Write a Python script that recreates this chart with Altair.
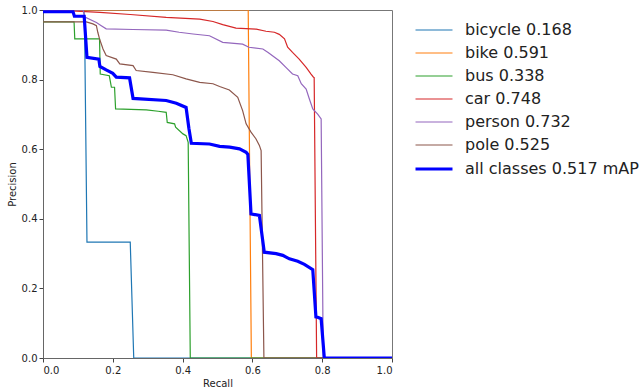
import altair as alt
import pandas as pd

classes = ["bicycle 0.168", "bike 0.591", "bus 0.338", "car 0.748",
           "person 0.732", "pole 0.525", "all classes 0.517 mAP"]
colors = ["#1f77b4", "#ff7f0e", "#2ca02c", "#d62728", "#9467bd", "#8c564b", "#0000ff"]
widths = [1.2, 1.2, 1.2, 1.2, 1.2, 1.2, 3.2]

bicycle_r = [0.0, 0.117, 0.119, 0.126, 0.25, 0.26, 1.0]
bicycle_p = [1.0, 1.0, 0.97, 0.333, 0.333, 0.0, 0.0]

bike_r = [0.0, 0.588, 0.597, 1.0]
bike_p = [1.0, 1.0, 0.0, 0.0]

bus_r = [0.0, 0.089, 0.091, 0.162, 0.164, 0.19, 0.196, 0.205, 0.208, 0.296, 0.33,
         0.353, 0.356, 0.377, 0.38, 0.401, 0.41, 0.416, 0.422, 1.0]
bus_p = [0.966, 0.966, 0.917, 0.917, 0.816, 0.811, 0.778, 0.778, 0.716, 0.713, 0.709,
         0.706, 0.677, 0.673, 0.663, 0.644, 0.639, 0.62, 0.0, 0.0]

car_r = [0.0, 0.095, 0.163, 0.25, 0.353, 0.449, 0.487, 0.515, 0.553, 0.611, 0.639,
         0.663, 0.677, 0.692, 0.701, 0.715, 0.734, 0.754, 0.768, 0.775, 0.777, 0.784, 1.0]
car_p = [1.0, 0.997, 0.993, 0.987, 0.979, 0.974, 0.967, 0.958, 0.948, 0.945, 0.939,
         0.936, 0.93, 0.917, 0.893, 0.878, 0.859, 0.835, 0.816, 0.807, 0.806, 0.0, 0.0]

person_r = [0.0, 0.115, 0.12, 0.153, 0.167, 0.181, 0.258, 0.353, 0.39, 0.43, 0.477,
            0.515, 0.572, 0.59, 0.63, 0.645, 0.677, 0.696, 0.715, 0.73, 0.74, 0.754,
            0.763, 0.773, 0.787, 0.797, 0.803, 1.0]
person_p = [1.0, 1.0, 0.98, 0.964, 0.955, 0.946, 0.944, 0.942, 0.936, 0.931, 0.926,
            0.907, 0.902, 0.893, 0.888, 0.878, 0.854, 0.835, 0.816, 0.811, 0.788, 0.773,
            0.745, 0.716, 0.701, 0.687, 0.0, 0.0]

pole_r = [0.0, 0.124, 0.143, 0.153, 0.157, 0.162, 0.172, 0.181, 0.21, 0.22, 0.258,
          0.267, 0.315, 0.372, 0.41, 0.449, 0.487, 0.506, 0.534, 0.558, 0.572, 0.582,
          0.596, 0.61, 0.62, 0.625, 0.633, 1.0]
pole_p = [0.966, 0.966, 0.96, 0.955, 0.936, 0.917, 0.888, 0.869, 0.859, 0.845, 0.84,
          0.826, 0.821, 0.814, 0.802, 0.792, 0.788, 0.78, 0.77, 0.749, 0.711, 0.673,
          0.649, 0.63, 0.611, 0.596, 0.0, 0.0]

all_r = [0.0, 0.086, 0.09, 0.118, 0.126, 0.16, 0.163, 0.181, 0.2, 0.21, 0.248, 0.258,
         0.353, 0.382, 0.41, 0.418, 0.425, 0.477, 0.506, 0.535, 0.563, 0.582, 0.587,
         0.596, 0.62, 0.634, 0.668, 0.687, 0.706, 0.73, 0.749, 0.773, 0.782, 0.787,
         0.797, 0.806, 1.0]
all_p = [0.995, 0.995, 0.982, 0.982, 0.864, 0.859, 0.838, 0.828, 0.818, 0.807, 0.805, 0.746,
         0.740, 0.732, 0.72, 0.66, 0.617, 0.615, 0.608, 0.606, 0.601, 0.591, 0.585,
         0.414, 0.41, 0.304, 0.30, 0.295, 0.285, 0.278, 0.269, 0.254, 0.118, 0.117,
         0.113, 0.0, 0.0]

series = [(bicycle_r, bicycle_p), (bike_r, bike_p), (bus_r, bus_p), (car_r, car_p),
          (person_r, person_p), (pole_r, pole_p), (all_r, all_p)]

rows = []
for name, (rs, ps) in zip(classes, series):
    for i, (r, p) in enumerate(zip(rs, ps)):
        rows.append({"cls": name, "recall": r, "precision": p, "i": i})
df = pd.DataFrame(rows)

axis_common = dict(
    labelFont="DejaVu Sans", labelFontSize=10, labelColor="#222222",
    titleFont="DejaVu Sans", titleFontSize=10, titleFontWeight="normal", titleColor="#222222",
    tickSize=4, tickColor="#444444", domainColor="#666666", grid=False,
    format=".1f", values=[0, 0.2, 0.4, 0.6, 0.8, 1.0],
)

legend_opts = dict(title=None, orient="none", legendX=380, legendY=10,
                   symbolType="M-2,0H2", symbolSize=342,
                   labelFont="DejaVu Sans", labelFontSize=16, labelLimit=300,
                   labelColor="#222222", labelOffset=20, rowPadding=5)

chart = alt.Chart(df).mark_line(strokeJoin="miter", clip=True).encode(
    x=alt.X("recall:Q", scale=alt.Scale(domain=[0, 1], nice=False),
            axis=alt.Axis(title="Recall", labelPadding=3, titlePadding=3, **axis_common)),
    y=alt.Y("precision:Q", scale=alt.Scale(domain=[0, 1], nice=False),
            axis=alt.Axis(title="Precision", labelPadding=2, titlePadding=4, **axis_common)),
    color=alt.Color("cls:N", scale=alt.Scale(domain=classes, range=colors),
                    legend=alt.Legend(**legend_opts)),
    strokeWidth=alt.StrokeWidth("cls:N", scale=alt.Scale(type="ordinal", domain=classes, range=widths),
                                legend=alt.Legend(**legend_opts)),
    order=alt.Order("i:Q"),
).properties(
    width=349, height=348,
    autosize=alt.AutoSizeParams(type="none"),
    padding={"left": 43, "top": 10, "right": 252, "bottom": 29},
).configure_view(stroke="#777777", strokeWidth=1)

chart.save("out.html", embed_options={"renderer": "svg", "actions": False})
